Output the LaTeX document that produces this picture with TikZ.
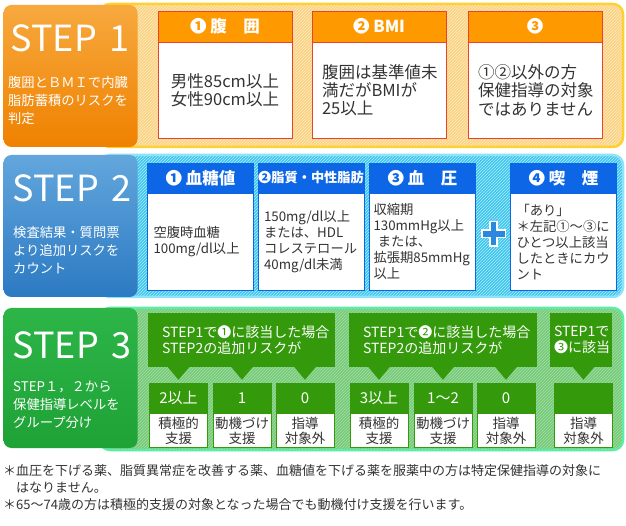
\documentclass[tikz,border=0pt]{standalone}
\usepackage{fontspec}
\setmainfont{Noto Sans CJK JP}
\usetikzlibrary{positioning, calc, patterns}
\definecolor{ink}{HTML}{333333}
\definecolor{orgTop}{HTML}{F7A93E}
\definecolor{orgBot}{HTML}{EF8100}
\definecolor{bandOrg}{HTML}{FAD17E}
\definecolor{rimOrg}{HTML}{FFD12E}
\definecolor{headOrg}{HTML}{FF9900}
\definecolor{lineOrg}{HTML}{E8432F}
\definecolor{bluTop}{HTML}{62A6DC}
\definecolor{bluBot}{HTML}{2C7AC3}
\definecolor{bandBlu}{HTML}{3EC5EF}
\definecolor{rimBlu}{HTML}{8FE3F8}
\definecolor{headBlu}{HTML}{0D66E6}
\definecolor{plusBlu}{HTML}{2A88DE}
\definecolor{grnTop}{HTML}{2DB548}
\definecolor{grnBot}{HTML}{1FA236}
\definecolor{bandGrn}{HTML}{76CC74}
\definecolor{rimGrn}{HTML}{5EEDA8}
\definecolor{calloutGrn}{HTML}{349A0C}
\tikzset{
    stepbox/.style={rounded corners=8pt, minimum width=134pt, inner sep=0pt},
    steptitle/.style={text=white, inner sep=0pt, font=\fontsize{36}{38}\selectfont},
    stepsub/.style={text=white, align=left, anchor=west, inner sep=0pt, font=\fontsize{13.3}{18}\selectfont},
    band/.style={rounded corners=10pt, line width=2.5pt},
    headA/.style={fill=headOrg, draw=lineOrg, minimum width=134pt, minimum height=31pt, inner sep=0pt, text=white, font=\bfseries\fontsize{16.5}{18}\selectfont},
    bodyA/.style={fill=white, draw=lineOrg, text width=114pt, inner xsep=10pt, inner ysep=0pt, minimum height=96pt, align=left, text=ink, font=\fontsize{16.5}{18.3}\selectfont},
    headB/.style={fill=headBlu, draw=headBlu, minimum width=106pt, minimum height=30pt, inner sep=0pt, text=white, font=\bfseries\fontsize{16.5}{18}\selectfont},
    bodyB/.style={fill=white, draw=headBlu, text width=94pt, inner xsep=6pt, inner ysep=0pt, minimum height=97pt, align=left, text=ink, font=\fontsize{13.3}{16}\selectfont},
    callout/.style={fill=calloutGrn, inner xsep=14pt, inner ysep=0pt, minimum height=54pt, align=left, text=white, font=\fontsize{14}{15.5}\selectfont},
    level/.style={fill=calloutGrn, draw=calloutGrn, minimum width=58pt, minimum height=30pt, inner sep=0pt, text=white, font=\fontsize{15}{16}\selectfont},
    levtext/.style={fill=white, draw=calloutGrn, minimum width=58pt, minimum height=34pt, inner sep=0pt, align=center, text=ink, font=\fontsize{13.5}{15}\selectfont},
    note/.style={anchor=west, inner sep=0pt, align=left, text=ink, font=\fontsize{13}{17}\selectfont}
}
\begin{document}
\begin{tikzpicture}[x=1pt, y=-1pt]
    \useasboundingbox[fill=white] (0,0) rectangle (626,526);

    % bands behind the step boxes
    \draw[band, draw=rimOrg, preaction={fill=bandOrg}, pattern=north east lines, pattern color=white!60!bandOrg] (100,4) rectangle (623,147);
    \draw[band, draw=rimBlu, preaction={fill=bandBlu}, pattern=north east lines, pattern color=rimBlu!70] (100,155) rectangle (623,297);
    \draw[band, draw=rimGrn, preaction={fill=bandGrn}, pattern=north east lines, pattern color=grnBot!40] (100,308) rectangle (623,450);

    % STEP 1
    \node[stepbox, minimum height=142pt, top color=orgTop, bottom color=orgBot] (s1) at (70.5,76) {};
    \node[steptitle] (s1title) at (70,38) {STEP\hspace{0.35em}1};
    \node[stepsub] (s1sub) at (8,100) {腹囲とＢＭＩで内臓\\脂肪蓄積のリスクを\\判定};

    \node[headA] (h11) at (225,26.5) {❶ 腹　囲};
    \node[bodyA, below=0pt of h11, align=center] (c11) {男性85cm以上\\女性90cm以上};
    \node[headA] (h12) at (379,26.5) {❷ BMI};
    \node[bodyA, below=0pt of h12] (c12) {腹囲は基準値未\\満だがBMIが\\25以上};
    \node[headA] (h13) at (535,26.5) {❸};
    \node[bodyA, below=0pt of h13] (c13) {①②以外の方\\保健指導の対象\\ではありません};

    % STEP 2
    \node[stepbox, minimum height=142pt, top color=bluTop, bottom color=bluBot] (s2) at (70.5,226) {};
    \node[steptitle] (s2title) at (72,188) {STEP\hspace{0.35em}2};
    \node[stepsub] (s2sub) at (13,250) {検査結果・質問票\\より追加リスクを\\カウント};

    \node[headB] (h21) at (200.5,178) {❶ 血糖値};
    \node[bodyB, below=0pt of h21] (c21) {空腹時血糖\\100mg/dl以上};
    \node[headB, font=\bfseries\fontsize{13.2}{15}\selectfont] (h22) at (311,178) {❷脂質・中性脂肪};
    \node[bodyB, below=0pt of h22] (c22) {150mg/dl以上\\または、HDL\\コレステロール\\40mg/dl未満};
    \node[headB] (h23) at (422.5,178) {❸ 血　圧};
    \node[bodyB, below=0pt of h23, inner xsep=4pt, text width=98pt] (c23) {収縮期\\130mmHg以上\\\ または、\\拡張期85mmHg\\以上};
    \node[headB] (h24) at (563.5,178) {❹ 喫　煙};
    \node[bodyB, below=0pt of h24] (c24) {「あり」\\＊左記①～③に\\ひとつ以上該当\\したときにカウ\\ント};

    \coordinate (plus) at (493.5,234);
    \draw[white, line width=9pt] ($(plus)+(-12.5,0)$) -- ($(plus)+(12.5,0)$) ($(plus)+(0,-13)$) -- ($(plus)+(0,13)$);
    \draw[plusBlu, line width=5.5pt] ($(plus)+(-11,0)$) -- ($(plus)+(11,0)$) ($(plus)+(0,-11.5)$) -- ($(plus)+(0,11.5)$);

    % STEP 3
    \node[stepbox, minimum height=140pt, top color=grnTop, bottom color=grnBot] (s3) at (70.5,378) {};
    \node[steptitle] (s3title) at (72,345) {STEP\hspace{0.35em}3};
    \node[stepsub] (s3sub) at (13,405) {STEP１，２から\\保健指導レベルを\\グループ分け};

    \node[callout, minimum width=187pt, text width=159pt] (k1) at (241.5,340) {STEP1で❶に該当した場合\\STEP2の追加リスクが};
    \node[callout, minimum width=188pt, text width=160pt] (k2) at (443,340) {STEP1で❷に該当した場合\\STEP2の追加リスクが};
    \node[callout, minimum width=62pt, text width=54pt, inner xsep=4pt] (k3) at (581,340) {STEP1で\\❸に該当};

    \node[level] (b1) at (178.5,398) {2以上};
    \node[level] (b2) at (242,398) {1};
    \node[level] (b3) at (305,398) {0};
    \node[level] (b4) at (379,398) {3以上};
    \node[level] (b5) at (443,398) {1～2};
    \node[level] (b6) at (506,398) {0};
    \node[level] (b7) at (583.5,398) {};
    \node[levtext, below=0pt of b1] (t1) {積極的\\支援};
    \node[levtext, below=0pt of b2] (t2) {動機づけ\\支援};
    \node[levtext, below=0pt of b3] (t3) {指導\\対象外};
    \node[levtext, below=0pt of b4] (t4) {積極的\\支援};
    \node[levtext, below=0pt of b5] (t5) {動機づけ\\支援};
    \node[levtext, below=0pt of b6] (t6) {指導\\対象外};
    \node[levtext, below=0pt of b7] (t7) {指導\\対象外};

    \foreach \b/\k in {b1/k1, b2/k1, b3/k1, b4/k2, b5/k2, b6/k2, b7/k3}
        \fill[calloutGrn] ($(\k.south -| \b.north)+(-11,-0.5)$) -- ($(\k.south -| \b.north)+(11,-0.5)$) -- ($(\b.north)+(0,-3)$) -- cycle;

    % notes
    \node[note] (n1) at (3,479) {＊血圧を下げる薬、脂質異常症を改善する薬、血糖値を下げる薬を服薬中の方は特定保健指導の対象に\\\hphantom{＊}はなりません。};
    \node[note] (n2) at (3,505) {＊65～74歳の方は積極的支援の対象となった場合でも動機付け支援を行います。};
\end{tikzpicture}
\end{document}
